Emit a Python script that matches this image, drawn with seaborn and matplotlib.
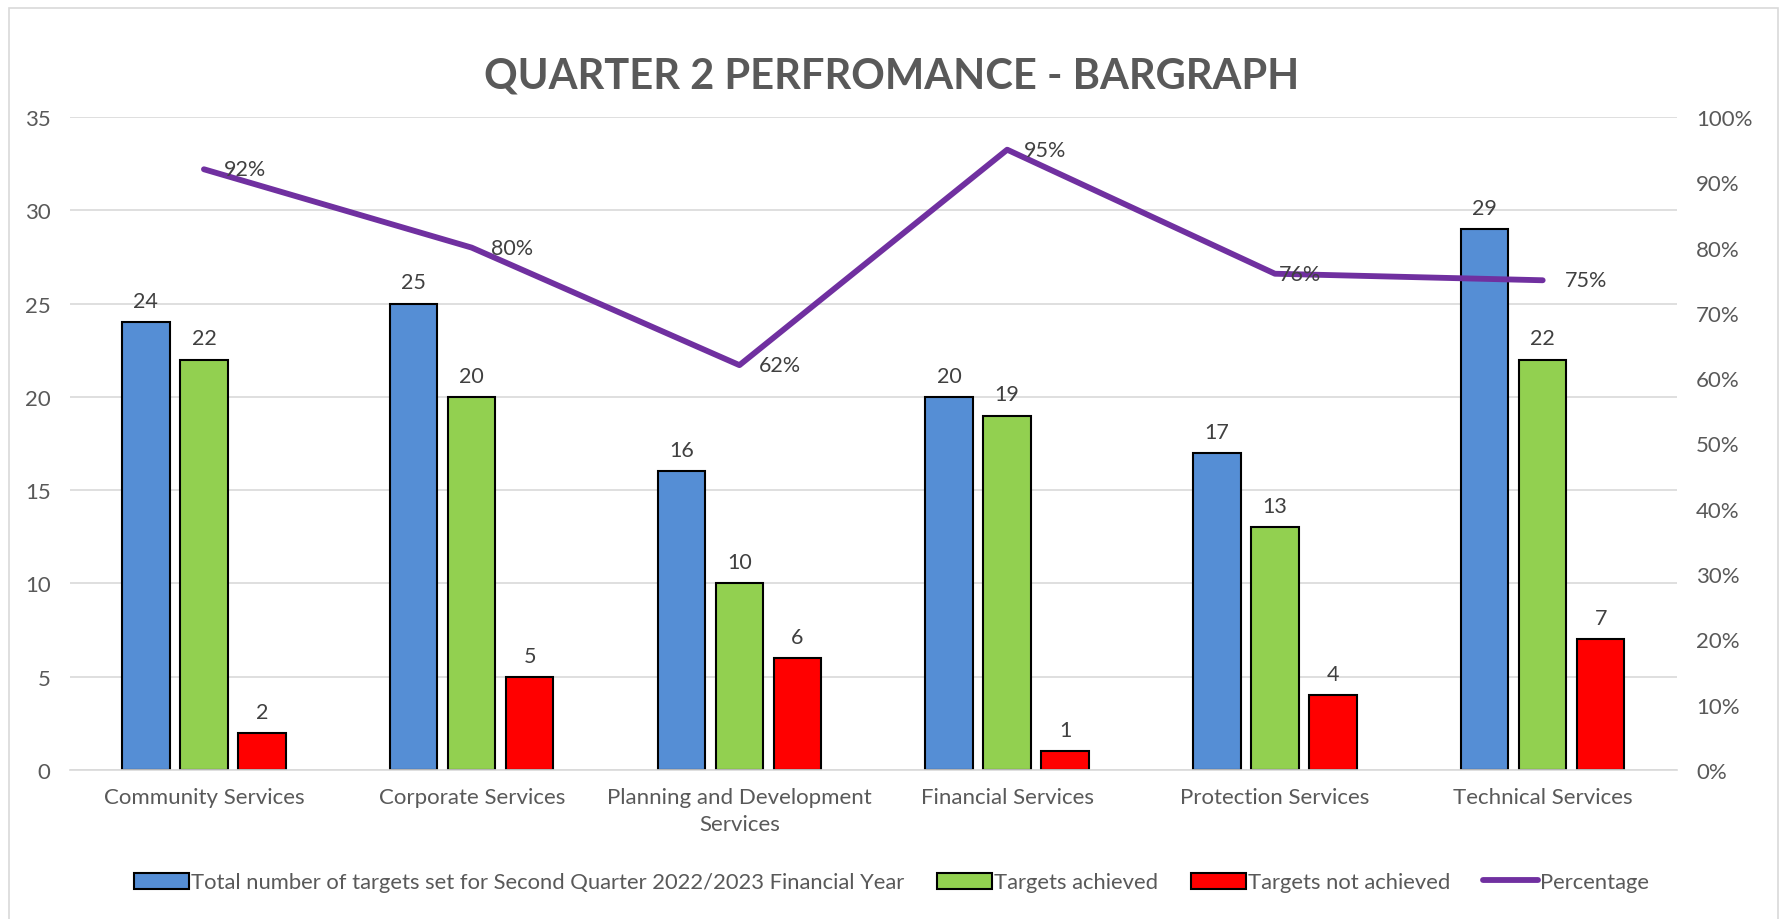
"""Quarter 2 performance bar graph with percentage line."""

import matplotlib.pyplot as plt
import numpy as np
import pandas as pd
import seaborn as sns
from matplotlib.lines import Line2D
from matplotlib.patches import Patch, Rectangle
from matplotlib.ticker import PercentFormatter

# Data
departments = [
    "Community Services",
    "Corporate Services",
    "Planning and Development\nServices",
    "Financial Services",
    "Protection Services",
    "Technical Services",
]
series_names = [
    "Total number of targets set for Second Quarter 2022/2023 Financial Year",
    "Targets achieved",
    "Targets not achieved",
]
total_targets = [24, 25, 16, 20, 17, 29]
achieved = [22, 20, 10, 19, 13, 22]
not_achieved = [2, 5, 6, 1, 4, 7]
percentage = [92, 80, 62, 95, 76, 75]

colors = ["#558ED5", "#92D050", "#FF0000"]
line_color = "#7030A0"
text_color = "#595959"
label_color = "#404040"

sns.set_theme(style="white")
plt.rcParams["font.family"] = ["Lato", "DejaVu Sans"]

df = pd.DataFrame(
    {
        "department": departments * 3,
        "series": np.repeat(series_names, len(departments)),
        "value": total_targets + achieved + not_achieved,
    }
)

fig = plt.figure(figsize=(17.83, 9.2), dpi=100)
ax = fig.add_axes([0.0393, 0.162, 0.901, 0.7097])

sns.barplot(
    data=df,
    x="department",
    y="value",
    hue="series",
    order=departments,
    hue_order=series_names,
    palette=colors,
    saturation=1,
    width=0.65,
    gap=0.18,
    edgecolor="black",
    linewidth=1.5,
    legend=False,
    ax=ax,
)

for container in ax.containers:
    ax.bar_label(container, padding=8, fontsize=15.5, color=label_color)

ax.set_ylim(0, 35)
ax.set_yticks(range(0, 36, 5))
ax.set_xlim(-0.5, len(departments) - 0.5)
ax.set_xlabel("")
ax.set_ylabel("")
ax.grid(axis="y", color="#D9D9D9", linewidth=1.2)
ax.set_axisbelow(True)
for side in ["top", "left", "right"]:
    ax.spines[side].set_visible(False)
ax.spines["bottom"].set_color("#D9D9D9")
ax.spines["bottom"].set_linewidth(1.2)
ax.tick_params(axis="both", length=0, labelsize=16, colors=text_color, pad=12)
ax.tick_params(axis="y", pad=14)
for lbl in ax.get_xticklabels():
    lbl.set_linespacing(1.45)

# Percentage line on secondary axis
ax2 = ax.twinx()
x_pos = np.arange(len(departments))
sns.lineplot(
    x=x_pos, y=percentage, color=line_color, linewidth=4.2, ax=ax2,
    solid_capstyle="round",
)
ax2.set_ylim(0, 100)
ax2.set_yticks(range(0, 101, 10))
ax2.yaxis.set_major_formatter(PercentFormatter(decimals=0))
ax2.tick_params(axis="y", length=0, labelsize=16, colors=text_color, pad=14)
for side in ["top", "left", "right", "bottom"]:
    ax2.spines[side].set_visible(False)

label_offsets = [14, 14, 14, 12, 3, 16]
for xp, pct, off in zip(x_pos, percentage, label_offsets):
    ax2.annotate(
        f"{pct}%",
        (xp, pct),
        xytext=(off, 0),
        textcoords="offset points",
        ha="left",
        va="center",
        fontsize=15.5,
        color=label_color,
    )

fig.suptitle(
    "QUARTER 2 PERFROMANCE - BARGRAPH",
    y=0.938,
    fontsize=30,
    fontweight="bold",
    color=text_color,
)

handles = [
    Patch(facecolor=c, edgecolor="black", linewidth=1.5) for c in colors
] + [Line2D([0], [0], color=line_color, linewidth=4.2, solid_capstyle="round")]
fig.legend(
    handles,
    series_names + ["Percentage"],
    loc="center",
    bbox_to_anchor=(0.5, 0.04),
    ncol=4,
    frameon=False,
    fontsize=15.8,
    labelcolor=text_color,
    handlelength=2.5,
    handleheight=0.75,
    handletextpad=0.1,
    columnspacing=1.5,
)

fig.patches.append(
    Rectangle(
        (0.005, -0.01), 0.992, 1.0,
        transform=fig.transFigure, fill=False, edgecolor="#D9D9D9", linewidth=1.2,
    )
)

fig.savefig("out.png", dpi=100)
